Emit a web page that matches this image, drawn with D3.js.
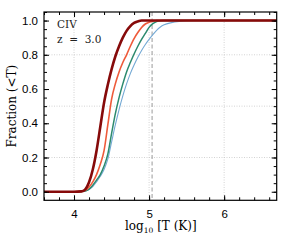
<!DOCTYPE html>
<html><head><meta charset="utf-8">
<script src="https://cdn.jsdelivr.net/npm/d3@7"></script>
<style>body{margin:0;background:#fff}svg{display:block}</style>
</head><body><svg id="c" width="291" height="242"></svg>
<script>
const logT = [3.6, 4.0, 4.1, 4.15, 4.2, 4.25, 4.3, 4.35, 4.4, 4.45, 4.5, 4.55, 4.6, 4.65, 4.7, 4.75, 4.8, 4.85, 4.9, 4.95, 5.0, 5.05, 5.1, 5.15, 5.2, 5.3, 5.4, 5.5, 5.7, 6.0, 6.7];
const fracBlue   = [0, 0, 0.002, 0.004, 0.013, 0.03, 0.058, 0.09, 0.13, 0.19, 0.29, 0.39, 0.48, 0.56, 0.63, 0.69, 0.74, 0.785, 0.825, 0.86, 0.89, 0.918, 0.943, 0.962, 0.975, 0.988, 0.995, 0.999, 1, 1, 1];
const fracGreen  = [0, 0, 0.002, 0.004, 0.015, 0.038, 0.068, 0.1, 0.15, 0.22, 0.34, 0.455, 0.55, 0.63, 0.7, 0.755, 0.805, 0.85, 0.89, 0.925, 0.96, 0.982, 0.994, 0.999, 1, 1, 1, 1, 1, 1, 1];
const fracOrange = [0, 0, 0.002, 0.008, 0.028, 0.058, 0.1, 0.16, 0.24, 0.39, 0.54, 0.63, 0.7, 0.755, 0.8, 0.85, 0.895, 0.93, 0.96, 0.98, 0.99, 0.996, 1, 1, 1, 1, 1, 1, 1, 1, 1];
const fracDark   = [0, 0, 0.002, 0.014, 0.055, 0.13, 0.24, 0.38, 0.52, 0.625, 0.715, 0.79, 0.85, 0.9, 0.94, 0.968, 0.986, 0.995, 1, 1, 1, 1, 1, 1, 1, 1, 1, 1, 1, 1, 1];
const seriesNames = ["blue", "green", "orange", "darkred"];
const xMajor = [4, 5, 6];
const yMajor = [0.0, 0.2, 0.4, 0.6, 0.8, 1.0];
const yGrid = [0.2, 0.5, 0.8];
const markerLogT = 5.04;
const ionLabel = "CIV";
const zLabel = "z  =  3.0";

const series = [
  {name: seriesNames[0], vals: fracBlue, color: "#74a9d4", w: 1.1},
  {name: seriesNames[1], vals: fracGreen, color: "#2c8a6e", w: 1.5},
  {name: seriesNames[2], vals: fracOrange, color: "#ee5a3a", w: 1.6},
  {name: seriesNames[3], vals: fracDark, color: "#860a0a", w: 2.6}
];

const L = 44, T = 12, R = 276.7, B = 200.3;
const svg = d3.select("#c");
const x = d3.scaleLinear().domain([3.6, 6.7]).range([L, R]);
const y = d3.scaleLinear().domain([-0.05, 1.05]).range([B, T]);

// grid
const g = svg.append("g");
g.selectAll("line.gx").data(xMajor).join("line")
  .attr("x1", d => x(d)).attr("x2", d => x(d)).attr("y1", T).attr("y2", B)
  .attr("stroke", "#c8c8c8").attr("stroke-width", 0.8).attr("stroke-dasharray", "1,1.5");
g.selectAll("line.gy").data(yGrid).join("line")
  .attr("y1", d => y(d)).attr("y2", d => y(d)).attr("x1", L).attr("x2", R)
  .attr("stroke", "#c8c8c8").attr("stroke-width", 0.8).attr("stroke-dasharray", "1,1.5");

// dashed marker
svg.append("line").attr("x1", x(markerLogT)).attr("x2", x(markerLogT)).attr("y1", T).attr("y2", B)
  .attr("stroke", "#999").attr("stroke-width", 1).attr("stroke-dasharray", "4,2.5");

// curves
const line = d3.line().x((d, i) => x(logT[i])).y(d => y(d)).curve(d3.curveMonotoneX);
series.forEach(s => {
  svg.append("path").attr("d", line(s.vals)).attr("fill", "none")
    .attr("stroke", s.color).attr("stroke-width", s.w).attr("stroke-linejoin", "round");
});

// axes ticks
const xMinor = d3.range(3.6, 6.70001, 0.2).map(v => +v.toFixed(2));
const yMinor = d3.range(0, 1.0501, 0.05).map(v => +v.toFixed(2));
function addAxis(axisFn, scale, vals, size, tr, fmt) {
  const a = axisFn(scale).tickValues(vals).tickSize(-size).tickSizeOuter(0).tickPadding(7);
  a.tickFormat(fmt ? fmt : () => "");
  const ax = svg.append("g").attr("transform", tr).call(a);
  ax.select(".domain").remove();
  ax.selectAll("line").attr("stroke", "#000").attr("stroke-width", 1);
  return ax;
}
addAxis(d3.axisBottom, x, xMinor, 3, `translate(0,${B})`);
addAxis(d3.axisTop, x, xMinor, 3, `translate(0,${T})`);
addAxis(d3.axisLeft, y, yMinor, 3, `translate(${L},0)`);
addAxis(d3.axisRight, y, yMinor, 3, `translate(${R},0)`);
const bx = addAxis(d3.axisBottom, x, xMajor, 5, `translate(0,${B})`, d3.format("d"));
addAxis(d3.axisTop, x, xMajor, 5, `translate(0,${T})`);
const ly = addAxis(d3.axisLeft, y, yMajor, 5, `translate(${L},0)`, d3.format(".1f"));
addAxis(d3.axisRight, y, yMajor, 5, `translate(${R},0)`);
[bx, ly].forEach(a => a.selectAll("text").attr("font-family", "Liberation Sans, Arial, sans-serif")
  .attr("font-size", 11.5).attr("fill", "#000"));
bx.selectAll("text").attr("dy", "0.9em").attr("y", 7);
ly.selectAll("text").attr("x", -6);

// frame
svg.append("rect").attr("x", L).attr("y", T).attr("width", R - L).attr("height", B - T)
  .attr("fill", "none").attr("stroke", "#000").attr("stroke-width", 1.2);

// labels
const serif = "DejaVu Serif, serif";
const xl = svg.append("text").attr("x", (L + R) / 2 + 0.5).attr("y", 230)
  .attr("text-anchor", "middle").attr("font-family", serif).attr("font-size", 12).attr("fill", "#000");
xl.append("tspan").text("log");
xl.append("tspan").text("10").attr("font-size", 7.5).attr("dy", 3);
xl.append("tspan").text(" [T (K)]").attr("dy", -3);

svg.append("text").attr("transform", `translate(16,${(T + B) / 2}) rotate(-90)`)
  .attr("text-anchor", "middle").attr("font-family", serif).attr("font-size", 12).attr("fill", "#000")
  .text("Fraction (<T)");

svg.append("text").attr("x", 57).attr("y", 28).attr("font-family", serif).attr("font-size", 10.5)
  .attr("fill", "#222").text(ionLabel);
svg.append("text").attr("x", 57).attr("y", 42.5).attr("font-family", serif).attr("font-size", 10.5)
  .attr("fill", "#222").attr("xml:space", "preserve").text(zLabel);
</script></body></html>
